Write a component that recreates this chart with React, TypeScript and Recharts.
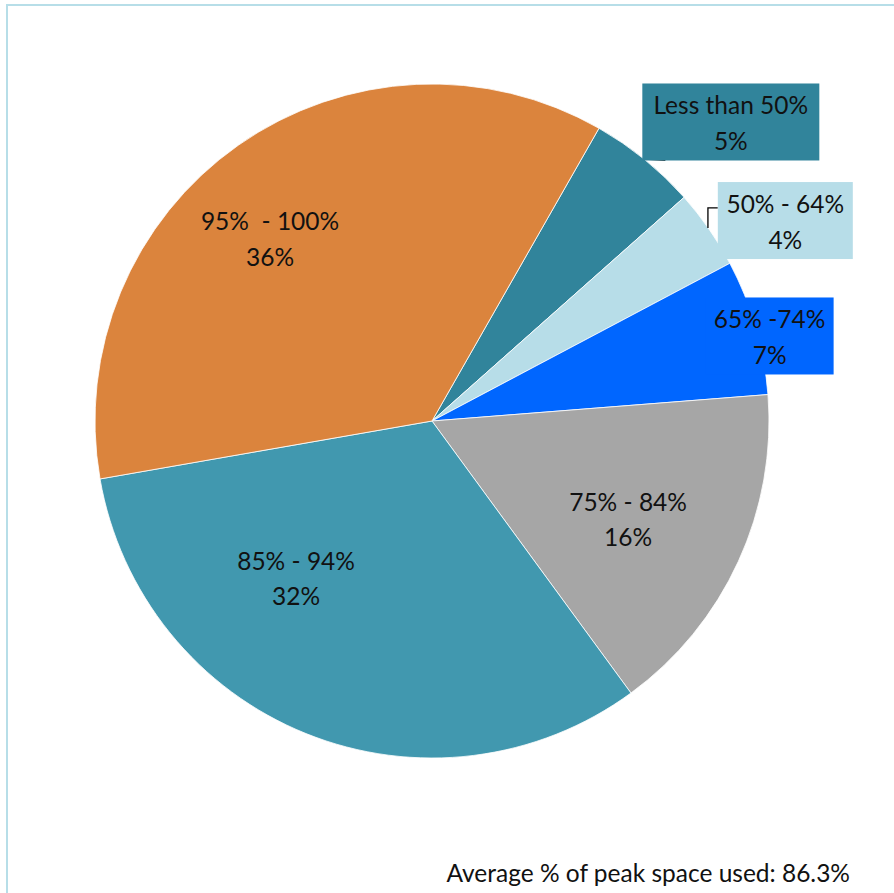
import { Pie, PieChart, Cell } from 'recharts';

const bands = ['Less than 50%', '50% - 64%', '65% -74%', '75% - 84%', '85% - 94%', '95%  - 100%'];
const shares = [5.2, 3.8, 6.5, 16.2, 32.3, 36.0];
const shareLabels = ['5%', '4%', '7%', '16%', '32%', '36%'];
const colors = ['#31849B', '#B7DDE8', '#0066FF', '#A6A6A6', '#4198AF', '#DB843D'];
const averageNote = 'Average % of peak space used: 86.3%';

const data = bands.map((band, i) => ({ band, share: shares[i], label: shareLabels[i] }));

const FONT = 'Lato, "Open Sans", sans-serif';
const FONT_SIZE = 24.5;
const RAD = Math.PI / 180;

// where each label sits: point on the slice's mid ray (fraction of radius) + nudge,
// plus a box width for the ones that get a filled box
const labelSpots = [
  { f: 1.2, dx: 44, dy: 15, box: 177 },
  { f: 1.2, dx: 21, dy: 30, box: 135 },
  { f: 1.0, dx: 14, dy: 9, box: 128 },
  { f: 0.65, dx: -3, dy: 6, box: 0 },
  { f: 0.65, dx: -54, dy: -47, box: 0 },
  { f: 0.65, dx: -36, dy: -4, box: 0 },
];

function SliceLabel(props: any) {
  const { cx, cy, midAngle, outerRadius, index } = props;
  const spot = labelSpots[index];
  const cos = Math.cos(-midAngle * RAD);
  const sin = Math.sin(-midAngle * RAD);
  const x = cx + outerRadius * spot.f * cos + spot.dx;
  const y = cy + outerRadius * spot.f * sin + spot.dy;
  const ex = cx + outerRadius * cos;
  const ey = cy + outerRadius * sin;
  const boxH = 77;
  const left = x - spot.box / 2;

  let leader = null;
  if (index === 0) {
    leader = <path d={`M${ex},${ey}L${ex + 21},${ey + 1}`} stroke="#000" strokeWidth={1} fill="none" />;
  } else if (index === 1) {
    leader = (
      <path d={`M${ex - 1},${ey - 1}V${ey - 21}H${left}`} stroke="#000" strokeWidth={1.3} fill="none" />
    );
  }

  const textProps = {
    x,
    textAnchor: 'middle' as const,
    dominantBaseline: 'central' as const,
    fontFamily: FONT,
    fontSize: FONT_SIZE,
    fill: '#111',
    style: { whiteSpace: 'pre' as const },
  };

  return (
    <g>
      {leader}
      {spot.box > 0 && (
        <rect x={left} y={y - boxH / 2} width={spot.box} height={boxH} fill={colors[index]} />
      )}
      <text {...textProps} y={y - 17}>
        {bands[index]}
      </text>
      <text {...textProps} y={y + 18.5}>
        {shareLabels[index]}
      </text>
    </g>
  );
}

export default function App() {
  return (
    <div
      style={{
        position: 'absolute',
        left: 6,
        top: 4,
        width: 888,
        height: 889,
        borderTop: '2px solid #B7DEE8',
        borderLeft: '2px solid #B7DEE8',
        background: '#fff',
        overflow: 'hidden',
      }}
    >
      <PieChart width={886} height={887}>
        <Pie
          data={data}
          dataKey="share"
          nameKey="band"
          cx={419}
          cy={410}
          outerRadius={337}
          startAngle={60.3}
          endAngle={-299.7}
          stroke="#fff"
          strokeWidth={0.8}
          label={SliceLabel}
          labelLine={false}
          isAnimationActive={false}
        >
          {data.map((d, i) => (
            <Cell key={d.band} fill={colors[i]} />
          ))}
        </Pie>
      </PieChart>
      <div
        style={{
          position: 'absolute',
          right: 46,
          top: 852,
          fontFamily: FONT,
          fontSize: FONT_SIZE,
          color: '#111',
          whiteSpace: 'nowrap',
        }}
      >
        {averageNote}
      </div>
    </div>
  );
}
